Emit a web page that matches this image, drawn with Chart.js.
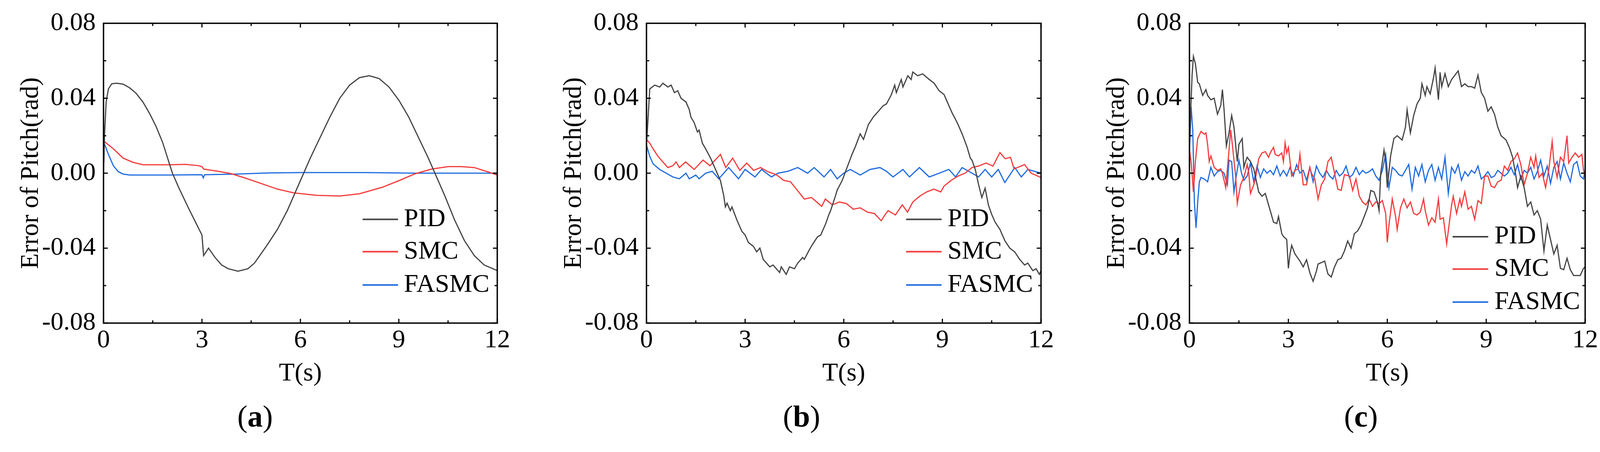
<!DOCTYPE html>
<html>
<head>
<meta charset="utf-8">
<script src="https://cdn.jsdelivr.net/npm/chart.js@4.4.1/dist/chart.umd.min.js"></script>
<style>
  body { margin: 0; background: #fff; width: 4110px; height: 1157px; overflow: hidden; position: relative; font-family: "Liberation Serif", "Times New Roman", serif; }
  canvas { position: absolute; top: 0; }
  .cap { position: absolute; top: 1024px; font-size: 78px; line-height: 84px; transform: translateX(-50%); color: #000; }
</style>
</head>
<body>
<canvas id="chartA" width="1380" height="1000" style="left:0px"></canvas>
<canvas id="chartB" width="1380" height="1000" style="left:1390px"></canvas>
<canvas id="chartC" width="1330" height="1000" style="left:2780px"></canvas>
<div class="cap" style="left:653px">(<b>a</b>)</div>
<div class="cap" style="left:2052px">(<b>b</b>)</div>
<div class="cap" style="left:3484px">(<b>c</b>)</div>
<script>
// series labels and colours
const seriesNames = ['PID', 'SMC', 'FASMC'];
const seriesColors = ['#444444', '#f43c3c', '#1f6ce0'];

// axis tick values
const xTicks = [0, 3, 6, 9, 12];
const yTicks = [-0.08, -0.04, 0, 0.04, 0.08];

// (a) -- time (s) and error (rad)
const tPidA = [0,0.03,0.08,0.15,0.25,0.4,0.6,0.8,1.0,1.2,
  1.4,1.6,1.8,2.0,2.1,2.3,2.6,2.8,3.0,3.05,
  3.2,3.4,3.6,3.8,4.1,4.4,4.6,4.8,5.0,5.3,
  5.6,5.9,6.1,6.3,6.6,6.9,7.2,7.5,7.8,8.1,
  8.4,8.7,9.0,9.3,9.6,9.9,10.1,10.4,10.7,11.0,
  11.3,11.6,12];
const pidA = [0,0.02,0.038,0.045,0.0477,0.048,0.0475,0.0455,0.0425,0.038,
  0.032,0.025,0.0165,0.0055,0,-0.008,-0.019,-0.026,-0.033,-0.044,
  -0.040,-0.045,-0.049,-0.051,-0.0523,-0.051,-0.048,-0.043,-0.038,-0.030,
  -0.020,-0.008,0,0.008,0.019,0.030,0.040,0.047,0.051,0.052,
  0.0505,0.046,0.039,0.030,0.019,0.008,0,-0.012,-0.025,-0.036,
  -0.044,-0.049,-0.052];
const tSmcA = [0,0.02,0.3,0.6,0.9,1.2,2.0,2.5,2.9,3.0,
  3.05,3.5,3.9,4.3,4.8,5.3,5.8,6.5,7.2,7.8,
  8.5,9.0,9.5,10.0,10.5,10.9,11.3,11.7,12];
const smcA = [0,0.017,0.013,0.008,0.0058,0.0045,0.0045,0.0047,0.004,0.0035,
  0.0022,0.001,-0.0003,-0.0025,-0.0055,-0.0085,-0.0105,-0.0118,-0.0122,-0.011,
  -0.0075,-0.004,-0.0003,0.0022,0.0035,0.0035,0.003,0.0008,-0.001];
const tFasA = [0,0.02,0.15,0.3,0.45,0.6,0.8,2.0,3.0,3.04,
  3.08,4.0,5.0,6.0,8.0,9.5,12];
const fasA = [0,0.016,0.01,0.004,0.0008,-0.0005,-0.001,-0.001,-0.0008,-0.0025,
  -0.0008,-0.0005,0.0001,0.0003,0.0003,0,0];

// (b)
const tPidB = [0,0.1,0.25,0.4,0.5,0.65,0.75,0.85,0.95,1.05,
  1.2,1.3,1.35,1.45,1.55,1.6,1.7,1.8,1.95,2.05,
  2.15,2.25,2.35,2.4,2.45,2.55,2.6,2.75,2.9,3.0,
  3.1,3.25,3.35,3.45,3.55,3.65,3.75,3.85,3.95,4.05,
  4.1,4.25,4.35,4.5,4.6,4.75,4.8,4.95,5.05,5.2,
  5.3,5.45,5.55,5.6,5.75,5.8,5.95,6.1,6.25,6.35,
  6.5,6.6,6.75,6.9,7.1,7.2,7.3,7.45,7.55,7.6,
  7.75,7.8,7.95,8.05,8.1,8.25,8.4,8.6,8.75,8.9,
  9.05,9.15,9.3,9.45,9.5,9.6,9.75,9.85,9.9,10.0,
  10.1,10.2,10.3,10.4,10.5,10.6,10.75,10.9,11.05,11.2,
  11.35,11.5,11.6,11.75,11.85,11.95,12];
const pidB = [0.015,0.045,0.047,0.046,0.048,0.046,0.047,0.043,0.044,0.040,
  0.038,0.034,0.030,0.027,0.022,0.023,0.016,0.013,0.008,0.004,
  0.0,-0.004,-0.012,-0.018,-0.016,-0.020,-0.018,-0.025,-0.031,-0.033,
  -0.037,-0.039,-0.042,-0.040,-0.046,-0.048,-0.050,-0.049,-0.051,-0.053,
  -0.050,-0.054,-0.050,-0.051,-0.048,-0.045,-0.046,-0.041,-0.038,-0.034,
  -0.033,-0.027,-0.022,-0.020,-0.012,-0.009,-0.004,0.003,0.010,0.014,
  0.021,0.018,0.026,0.030,0.034,0.036,0.037,0.042,0.047,0.043,
  0.050,0.046,0.052,0.050,0.054,0.052,0.053,0.050,0.048,0.044,
  0.042,0.038,0.032,0.027,0.025,0.021,0.014,0.008,0.007,0.002,
  -0.006,-0.013,-0.008,-0.017,-0.022,-0.026,-0.030,-0.036,-0.040,-0.042,
  -0.046,-0.049,-0.048,-0.052,-0.051,-0.054,-0.052];
const tSmcB = [0,0.1,0.2,0.35,0.5,0.65,0.8,0.9,1.0,1.19,
  1.45,1.72,1.93,2.25,2.41,2.62,2.84,3.05,3.26,3.47,
  3.69,3.95,4.17,4.38,4.59,4.8,5.02,5.23,5.33,5.44,
  5.65,5.87,6.08,6.29,6.5,6.72,6.93,7.14,7.25,7.35,
  7.57,7.78,7.94,8.1,8.31,8.52,8.74,8.95,9.05,9.27,
  9.48,9.69,9.9,10.1,10.33,10.54,10.75,10.91,11.07,11.18,
  11.5,11.7,12];
const smcB = [0.018,0.016,0.013,0.009,0.006,0.003,0.004,0.006,0.003,0.006,
  0.002,0.007,0.004,0.010,0.003,0.008,0.0015,0.0054,0.0015,0.003,
  0.0008,-0.0008,-0.0038,-0.0046,-0.0092,-0.0138,-0.013,-0.0162,-0.0177,-0.0138,
  -0.0169,-0.0154,-0.0162,-0.0192,-0.0185,-0.0208,-0.0215,-0.0254,-0.0223,-0.02,
  -0.0223,-0.0169,-0.0208,-0.0154,-0.0123,-0.01,-0.0085,-0.01,-0.0069,-0.0038,
  -0.0015,0,0.003,0.0038,0.0054,0.0038,0.011,0.0077,0.0085,0.0023,
  0.0046,0,-0.0023];
const tFasB = [0,0.1,0.2,0.4,0.6,0.8,1.0,1.2,1.3,1.5,
  1.6,1.8,2.0,2.2,2.5,2.8,3.0,3.3,3.5,3.8,
  4.0,4.3,4.6,4.9,5.1,5.4,5.6,5.8,6.0,6.2,
  6.5,6.8,7.1,7.3,7.5,7.8,8.0,8.3,8.6,8.9,
  9.2,9.4,9.6,9.9,10.1,10.3,10.5,10.7,10.9,11.2,
  11.4,11.6,12];
const fasB = [0.015,0.009,0.005,0.002,0,-0.002,-0.003,0,-0.003,-0.001,
  -0.003,0,0.001,-0.003,0.003,-0.003,0.002,-0.002,0.002,-0.002,
  0,0.001,0.003,0,0.003,-0.002,0.002,-0.003,0,0.002,
  -0.001,0.002,0.003,0.001,-0.002,0.002,-0.002,0.003,-0.002,0,
  0.002,-0.002,0.003,0,-0.002,0.002,-0.002,0.002,-0.005,0.003,
  -0.002,0.002,0];

// (c)
const tPidC = [0,0.08,0.12,0.18,0.25,0.3,0.4,0.5,0.55,0.65,
  0.75,0.85,0.95,1.0,1.05,1.12,1.2,1.28,1.35,1.45,
  1.5,1.6,1.65,1.7,1.75,1.85,1.95,2.1,2.2,2.3,
  2.45,2.55,2.65,2.7,2.8,2.85,2.95,3.0,3.05,3.1,
  3.2,3.35,3.45,3.55,3.65,3.75,3.85,3.9,4.0,4.1,
  4.2,4.3,4.4,4.5,4.6,4.7,4.8,4.9,5.0,5.1,
  5.2,5.3,5.4,5.5,5.6,5.7,5.75,5.8,5.9,5.95,
  6.0,6.1,6.2,6.3,6.45,6.55,6.6,6.7,6.8,6.9,
  7.0,7.05,7.15,7.2,7.3,7.4,7.45,7.55,7.6,7.65,
  7.75,7.85,7.95,8.05,8.15,8.25,8.35,8.45,8.55,8.65,
  8.75,8.85,8.95,9.05,9.15,9.25,9.35,9.45,9.55,9.6,
  9.7,9.8,9.9,9.95,10.05,10.15,10.25,10.35,10.45,10.55,
  10.65,10.75,10.85,10.95,11.05,11.15,11.25,11.35,11.45,11.55,
  11.65,11.75,11.85,11.95,12];
const pidC = [0.0154,0.0523,0.0623,0.0585,0.0485,0.0477,0.0415,0.0446,0.0415,0.0392,
  0.04,0.0315,0.0362,0.0446,0.0338,0.0146,0.0215,0.0308,0.0246,0.0062,
  0.0154,0.0185,0.0031,0.0062,0.0085,0.0062,0.0023,-0.01,-0.0123,-0.0108,
  -0.02,-0.0262,-0.0269,-0.0231,-0.0323,-0.0338,-0.0354,-0.0508,-0.0431,-0.0385,
  -0.0431,-0.0469,-0.05,-0.0462,-0.0531,-0.0577,-0.0523,-0.0485,-0.0477,-0.0469,
  -0.0538,-0.0554,-0.05,-0.0462,-0.0454,-0.0415,-0.0362,-0.04,-0.0323,-0.0308,
  -0.0277,-0.0231,-0.0185,-0.0092,-0.01,-0.0154,-0.02,0,0.0123,0.0062,
  -0.0077,0.0092,0.0185,0.02,0.0177,0.0246,0.0338,0.0215,0.0308,0.0369,
  0.04,0.0477,0.0415,0.0462,0.0423,0.0508,0.0562,0.0392,0.0538,0.0462,
  0.0531,0.0462,0.05,0.0523,0.0546,0.0462,0.0477,0.0462,0.0462,0.0454,
  0.0523,0.0431,0.04,0.0331,0.0354,0.0315,0.0246,0.02,0.0185,0.0177,
  0.0138,0.0085,-0.0015,-0.0077,-0.0015,-0.0077,-0.0177,-0.0154,-0.0223,-0.02,
  -0.0246,-0.0415,-0.0277,-0.0354,-0.0431,-0.0385,-0.0508,-0.0515,-0.0454,-0.0515,
  -0.0546,-0.0546,-0.0546,-0.0508,-0.05];
const tSmcC = [0,0.05,0.12,0.18,0.25,0.35,0.45,0.5,0.55,0.6,
  0.65,0.75,0.85,0.95,1.0,1.05,1.1,1.2,1.25,1.3,
  1.4,1.45,1.55,1.65,1.75,1.8,1.85,1.95,2.0,2.1,
  2.2,2.3,2.4,2.45,2.55,2.6,2.7,2.8,2.85,2.9,
  2.95,3.0,3.1,3.2,3.3,3.35,3.45,3.55,3.65,3.7,
  3.8,3.9,4.0,4.1,4.2,4.3,4.4,4.5,4.6,4.7,
  4.85,4.95,5.05,5.15,5.25,5.35,5.45,5.55,5.65,5.75,
  5.85,5.95,6.0,6.05,6.15,6.25,6.3,6.4,6.5,6.6,
  6.7,6.8,6.9,7.0,7.1,7.15,7.25,7.35,7.45,7.55,
  7.6,7.7,7.8,7.85,7.95,8.0,8.1,8.2,8.25,8.35,
  8.45,8.55,8.65,8.75,8.85,8.95,9.05,9.15,9.25,9.35,
  9.45,9.55,9.65,9.75,9.85,9.95,10.05,10.15,10.25,10.35,
  10.45,10.5,10.6,10.7,10.8,10.9,11.0,11.05,11.15,11.25,
  11.35,11.45,11.5,11.6,11.7,11.8,11.9,11.95,12];
const smcC = [0.0123,0.0062,-0.01,0.0062,0.0185,0.0223,0.0208,0.0215,0.0154,0.0062,
  0.0092,0.0031,0.0015,0.0023,0,-0.0038,-0.0077,0.0123,0.0231,0.0154,
  -0.0015,-0.0162,-0.0062,-0.0023,0.0046,0,-0.0108,-0.0062,-0.0031,0.0077,
  0.0108,0.0115,0.0085,0.0108,0.0138,0.01,0.0092,0.0108,0.0062,0.0162,
  0.0108,0.0138,-0.0015,0.0015,0.0023,0.01,-0.0062,-0.0062,0.0031,0,
  -0.0031,-0.0138,-0.0062,-0.0031,0.0062,0.0085,0,-0.0085,-0.0092,-0.0008,
  -0.0015,-0.0092,-0.0031,-0.0123,-0.0154,-0.0169,-0.0138,-0.0177,-0.0154,-0.0162,
  -0.0146,-0.0215,-0.0369,-0.0277,-0.0138,-0.0231,-0.03,-0.0185,-0.0138,-0.0185,
  -0.0154,-0.0215,-0.0223,-0.0208,-0.0138,-0.02,-0.0277,-0.0238,-0.0262,-0.0138,
  -0.0246,-0.0238,-0.0377,-0.0308,-0.0169,-0.0123,-0.0215,-0.0138,-0.0177,-0.01,
  -0.0192,-0.0177,-0.0246,-0.0146,-0.0162,-0.0015,-0.0015,-0.0069,-0.0077,-0.0046,
  -0.0038,0.0038,0.0015,0.0062,0.0077,0.0108,0.0046,-0.0062,0,0.0085,
  0.0031,0.0092,-0.0023,0,-0.0077,0.0023,0.0169,0.0062,-0.0023,0.0085,
  0.0062,0.02,0.0054,0.0085,0.0108,0.0085,0.01,0.0015,-0.0015];
const tFasC = [0,0.05,0.1,0.15,0.2,0.25,0.3,0.35,0.45,0.55,
  0.65,0.75,0.85,0.95,1.05,1.1,1.15,1.2,1.28,1.35,
  1.42,1.5,1.58,1.65,1.75,1.85,1.95,2.05,2.15,2.25,
  2.35,2.45,2.55,2.65,2.75,2.85,2.95,3.05,3.15,3.25,
  3.35,3.45,3.55,3.65,3.75,3.85,3.95,4.05,4.15,4.25,
  4.35,4.45,4.55,4.65,4.75,4.85,4.95,5.05,5.15,5.25,
  5.35,5.45,5.55,5.65,5.75,5.85,5.95,6.05,6.15,6.25,
  6.35,6.45,6.55,6.65,6.75,6.85,6.95,7.05,7.15,7.25,
  7.35,7.45,7.55,7.65,7.75,7.85,7.95,8.05,8.15,8.25,
  8.35,8.45,8.55,8.65,8.75,8.85,8.95,9.05,9.15,9.25,
  9.35,9.45,9.55,9.65,9.75,9.85,9.95,10.05,10.15,10.25,
  10.35,10.45,10.55,10.65,10.75,10.85,10.95,11.05,11.15,11.25,
  11.35,11.45,11.55,11.65,11.75,11.85,11.95,12];
const fasC = [0.0108,0.0354,0.0231,-0.0154,-0.0292,-0.0154,-0.0046,-0.0023,-0.0031,-0.0046,
  0.0031,-0.0015,0.0008,0.0015,0,-0.0031,-0.0062,0.0069,0.0062,-0.01,
  -0.0015,0.0069,0,-0.0038,-0.0015,0.0054,-0.0046,0.0038,-0.0023,0.0023,
  0,0.0015,-0.0008,0.0038,-0.0015,0.0015,-0.0015,0.0031,-0.0015,0.0046,
  0,0.0015,-0.0038,0.0031,-0.0046,0.0038,0,-0.0023,0.0015,-0.0015,
  -0.0031,0.0015,-0.0015,0,0.0038,-0.0023,-0.0008,0.0031,-0.0008,0.0015,
  0,0.0008,0.0023,-0.0015,-0.0038,0.0015,0.01,-0.0077,0.0031,0.0015,
  -0.0008,-0.0015,0.0015,0.0046,-0.0085,0.0031,-0.0015,0.0046,-0.0046,0.0015,
  0.0046,-0.0038,0.0031,-0.0031,0.0085,-0.0108,0.0031,0,0.0046,-0.0038,
  0.0008,-0.0015,0.0015,0,0.0038,-0.0031,-0.0015,0.0008,-0.0023,-0.0015,
  0.0015,0,-0.0015,0,0.0031,-0.0008,0.0046,-0.0031,0.0015,0,
  0.0031,-0.0031,0.0008,0.0069,-0.0015,0.0038,-0.0054,0.0031,0.0062,-0.0031,
  0.0054,0,-0.0046,0.0046,0.0062,-0.0015,-0.0031,0.0023];

const FONT = '"Liberation Serif", "Times New Roman", serif';
Chart.defaults.font.family = FONT;
Chart.defaults.color = '#000';

// box round the plot with inward ticks on all four sides (Origin style)
const frameTicks = {
  id: 'frameTicks',
  afterDatasetsDraw(chart) {
    const {ctx, chartArea: a, scales: {x, y}} = chart;
    const xs = x.ticks.map(t => t.value);
    const ys = y.ticks.map(t => t.value);
    const mid = arr => arr.slice(1).map((v, i) => (v + arr[i]) / 2);
    ctx.save();
    ctx.strokeStyle = '#000';
    ctx.lineWidth = 3;
    ctx.beginPath();
    const xt = (v, len) => {
      const p = x.getPixelForValue(v);
      ctx.moveTo(p, a.bottom); ctx.lineTo(p, a.bottom - len);
      ctx.moveTo(p, a.top); ctx.lineTo(p, a.top + len);
    };
    const yt = (v, len) => {
      const p = y.getPixelForValue(v);
      ctx.moveTo(a.left, p); ctx.lineTo(a.left + len, p);
      ctx.moveTo(a.right, p); ctx.lineTo(a.right - len, p);
    };
    xs.forEach(v => xt(v, 11));
    mid(xs).forEach(v => xt(v, 7));
    ys.forEach(v => yt(v, 11));
    mid(ys).forEach(v => yt(v, 7));
    ctx.stroke();
    ctx.lineWidth = 3.5;
    ctx.strokeRect(a.left, a.top, a.width, a.height);
    ctx.restore();
  }
};

// legend drawn inside the plot, placed by fractions of the chart area
const insideLegend = {
  id: 'insideLegend',
  afterDatasetsDraw(chart, args, opts) {
    const {ctx, chartArea: a} = chart;
    ctx.save();
    ctx.font = '66px ' + FONT;
    ctx.textBaseline = 'middle';
    ctx.fillStyle = '#000';
    ctx.lineWidth = 4;
    chart.data.datasets.forEach((ds, i) => {
      const yy = a.top + a.height * opts.rows[i];
      ctx.strokeStyle = ds.borderColor;
      ctx.beginPath();
      ctx.moveTo(a.left + a.width * opts.x0, yy);
      ctx.lineTo(a.left + a.width * opts.x1, yy);
      ctx.stroke();
      ctx.fillText(ds.label, a.left + a.width * opts.tx, yy);
    });
    ctx.restore();
  }
};

function makeChart(id, times, values, plotW, legendPos) {
  const canvas = document.getElementById(id);
  const datasets = seriesNames.map((name, k) => ({
    label: name,
    data: times[k].map((t, i) => ({x: t, y: values[k][i]})),
    borderColor: seriesColors[k],
    borderWidth: 3,
    pointRadius: 0,
    tension: 0,
    fill: false
  }));
  return new Chart(canvas, {
    type: 'line',
    data: {datasets},
    options: {
      responsive: false,
      animation: false,
      devicePixelRatio: 1,
      layout: {padding: {left: 0, top: 59, right: canvas.width - 265 - plotW, bottom: 0}},
      plugins: {legend: {display: false}, tooltip: {enabled: false}, insideLegend: legendPos},
      scales: {
        x: {
          type: 'linear', min: xTicks[0], max: xTicks[xTicks.length - 1],
          afterBuildTicks: s => { s.ticks = xTicks.map(v => ({value: v})); },
          ticks: {padding: 5, font: {size: 66}, maxRotation: 0, autoSkip: false,
                  callback: v => String(v)},
          grid: {display: false, drawTicks: false},
          border: {display: false},
          title: {display: true, text: 'T(s)', font: {size: 66}, padding: {top: 0, bottom: 4}},
          afterFit: s => { s.height = 173; }
        },
        y: {
          type: 'linear', min: yTicks[0], max: yTicks[yTicks.length - 1],
          afterBuildTicks: s => { s.ticks = yTicks.map(v => ({value: v})); },
          ticks: {padding: 20, font: {size: 66},
                  callback: v => (Math.abs(v) < 1e-9 ? 0 : v).toFixed(2)},
          grid: {display: false, drawTicks: false},
          border: {display: false},
          title: {display: true, text: 'Error of Pitch(rad)', font: {size: 66}, padding: {top: 40, bottom: 0}},
          afterFit: s => { s.width = 265; }
        }
      }
    },
    plugins: [frameTicks, insideLegend]
  });
}

const legendAB = {x0: 0.658, x1: 0.748, tx: 0.763, rows: [0.654, 0.762, 0.873]};
const legendC = {x0: 0.665, x1: 0.755, tx: 0.771, rows: [0.712, 0.820, 0.930]};

makeChart('chartA', [tPidA, tSmcA, tFasA], [pidA, smcA, fasA], 1008, legendAB);
makeChart('chartB', [tPidB, tSmcB, tFasB], [pidB, smcB, fasB], 1010, legendAB);
makeChart('chartC', [tPidC, tSmcC, tFasC], [pidC, smcC, fasC], 1013, legendC);
</script>
</body>
</html>
